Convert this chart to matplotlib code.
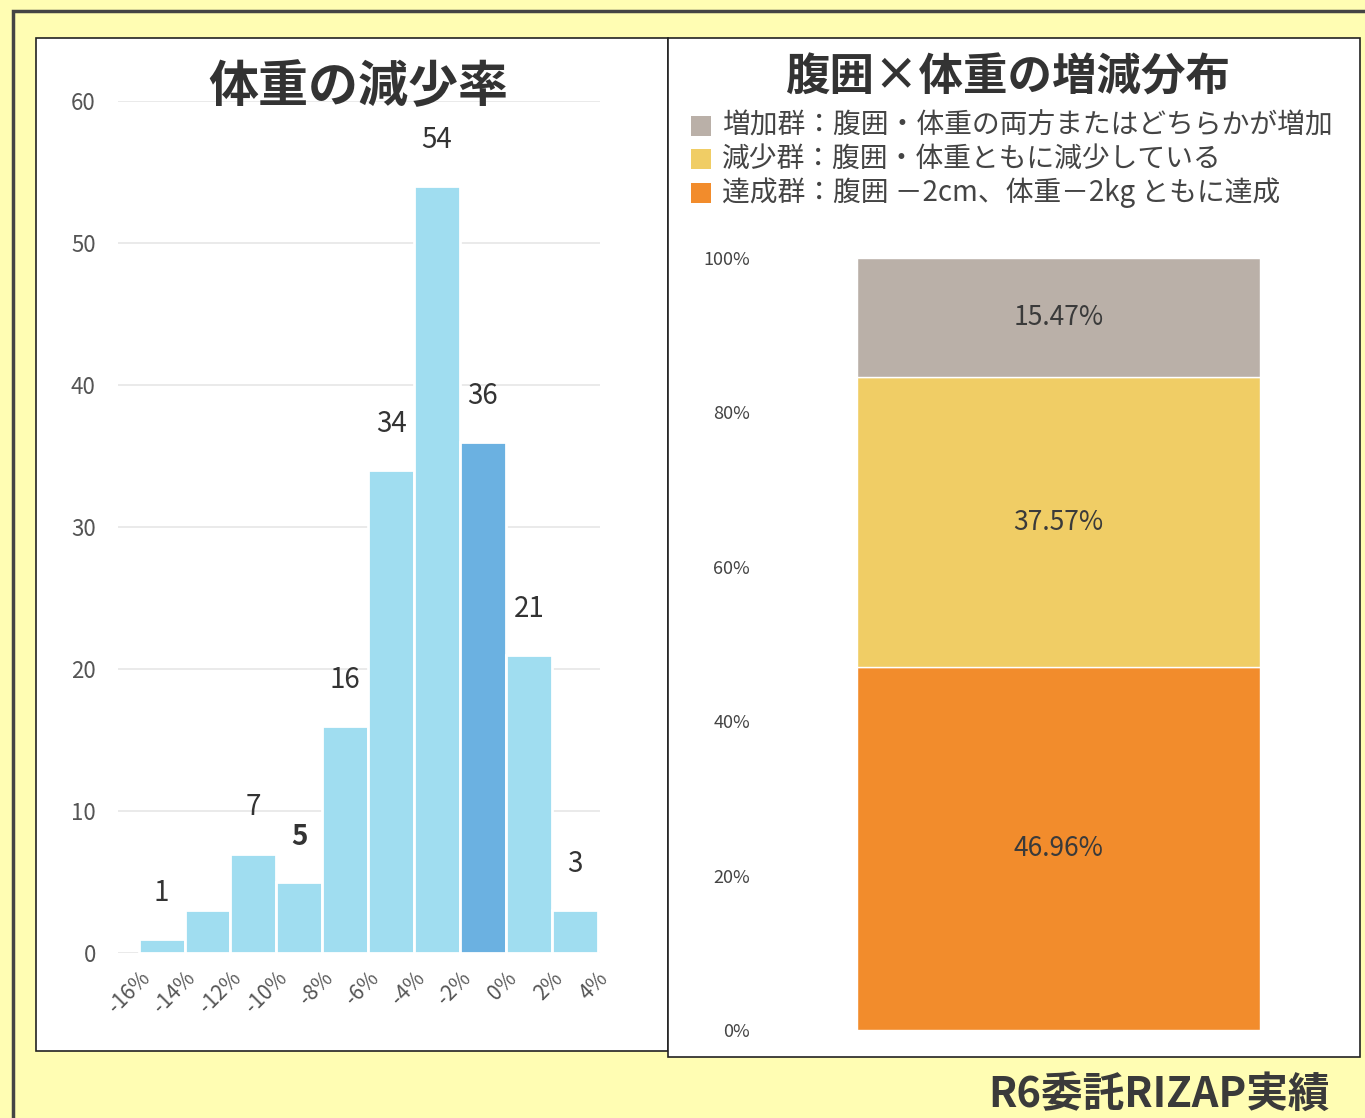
import matplotlib.pyplot as plt
from matplotlib.patches import Rectangle

plt.rcParams['font.family'] = ['Noto Sans CJK JP', 'DejaVu Sans']

W, H = 1365, 1118

# left: weight change histogram
bin_edges = [-16, -14, -12, -10, -8, -6, -4, -2, 0, 2, 4]
counts = [1, 3, 7, 5, 16, 34, 54, 36, 21, 3]
count_labels = ['1', '', '7', '5', '16', '34', '54', '36', '21', '3']
highlight_bin = 7
tick_labels = ['-16%', '-14%', '-12%', '-10%', '-8%', '-6%', '-4%', '-2%', '0%', '2%', '4%']

# right: waist x weight distribution
groups = ['達成群：腹囲 －2cm、体重－2kg ともに達成',
          '減少群：腹囲・体重ともに減少している',
          '増加群：腹囲・体重の両方またはどちらかが増加']
shares = [46.96, 37.57, 15.47]
group_colors = ['#F28C2C', '#F0CD65', '#BAB0A8']


def fx(x):
    return x / W


def fy(y):
    return 1 - y / H


def box(x0, y0, x1, y1):
    return [fx(x0), fy(y1), fx(x1) - fx(x0), fy(y0) - fy(y1)]


fig = plt.figure(figsize=(W / 100, H / 100), dpi=100)
fig.patch.set_facecolor('#FFFDB3')

# outer frame and white panels (behind the axes)
fig.patches.append(Rectangle((fx(13), fy(1200)), fx(1400) - fx(13), fy(11) - fy(1200),
                             transform=fig.transFigure, fill=False, ec='#444444', lw=2.5, zorder=-5))
fig.patches.append(Rectangle((fx(36), fy(1051)), fx(668) - fx(36), fy(38) - fy(1051),
                             transform=fig.transFigure, fc='white', ec='#222222', lw=1.2, zorder=-5))
fig.patches.append(Rectangle((fx(668), fy(1057)), fx(1360) - fx(668), fy(38) - fy(1057),
                             transform=fig.transFigure, fc='white', ec='#222222', lw=1.2, zorder=-5))

# ---- histogram ----
ax1 = fig.add_axes(box(118, 101, 600, 953))
ax1.set_facecolor('none')
lefts = bin_edges[:-1]
colors = ['#A0DDF0'] * len(counts)
colors[highlight_bin] = '#6BB1E1'
ax1.bar(lefts, counts, width=2, align='edge', color=colors, edgecolor='white', linewidth=2)
for x, c, lab in zip(lefts, counts, count_labels):
    if lab:
        ax1.text(x + 1, c + 2.2, lab, ha='center', va='bottom', fontsize=20, color='#333333',
                 fontweight='bold' if lab == '5' else 'normal')
ax1.set_xlim(-16.9, 4.1)
ax1.set_ylim(0, 60)
ax1.set_yticks(range(0, 61, 10))
ax1.set_xticks(bin_edges)
ax1.set_xticklabels(tick_labels, rotation=45, ha='right', rotation_mode='anchor')
ax1.tick_params(axis='x', length=0, pad=10, labelsize=15, labelcolor='#555555')
ax1.tick_params(axis='y', length=0, pad=16, labelsize=16, labelcolor='#555555')
ax1.grid(axis='y', color='#E6E6E6', lw=1.2)
ax1.set_axisbelow(True)
for s in ax1.spines.values():
    s.set_visible(False)
fig.text(fx(358), fy(88), '体重の減少率', ha='center', va='center', fontsize=36,
         fontweight='bold', color='#333333')

# ---- stacked bar ----
ax2 = fig.add_axes(box(857, 258, 1260, 1030))
ax2.set_facecolor('none')
bottom = 0
for share, col in zip(shares, group_colors):
    ax2.bar(0.5, share, width=1, bottom=bottom, color=col, edgecolor='white', linewidth=1)
    ax2.text(0.5, bottom + share / 2, f'{share:.2f}%', ha='center', va='center',
             fontsize=19, color='#3A3A3A')
    bottom += share
ax2.set_xlim(0, 1)
ax2.set_ylim(0, 100)
ax2.set_yticks(range(0, 101, 20))
ax2.set_yticklabels([f'{v}%' for v in range(0, 101, 20)])
ax2.set_xticks([])
ax2.tick_params(axis='y', length=0, pad=77, labelsize=13, labelcolor='#444444')
for s in ax2.spines.values():
    s.set_visible(False)

fig.text(fx(1008), fy(78), '腹囲×体重の増減分布', ha='center', va='center', fontsize=32,
         fontweight='bold', color='#333333')

legend_y = [193, 159, 126]
for lab, col, ly in zip(groups, group_colors, legend_y):
    fig.patches.append(Rectangle((fx(691), fy(ly + 10)), fx(711) - fx(691), fy(ly - 10) - fy(ly + 10),
                                 transform=fig.transFigure, fc=col, ec='none'))
    fig.text(fx(722), fy(ly), lab, ha='left', va='center', fontsize=20, color='#444444')

fig.text(fx(1330), fy(1095), 'R6委託RIZAP実績', ha='right', va='center', fontsize=30,
         fontweight='bold', color='#3A3A3A')

plt.savefig('out.png', dpi=100, facecolor=fig.get_facecolor())
